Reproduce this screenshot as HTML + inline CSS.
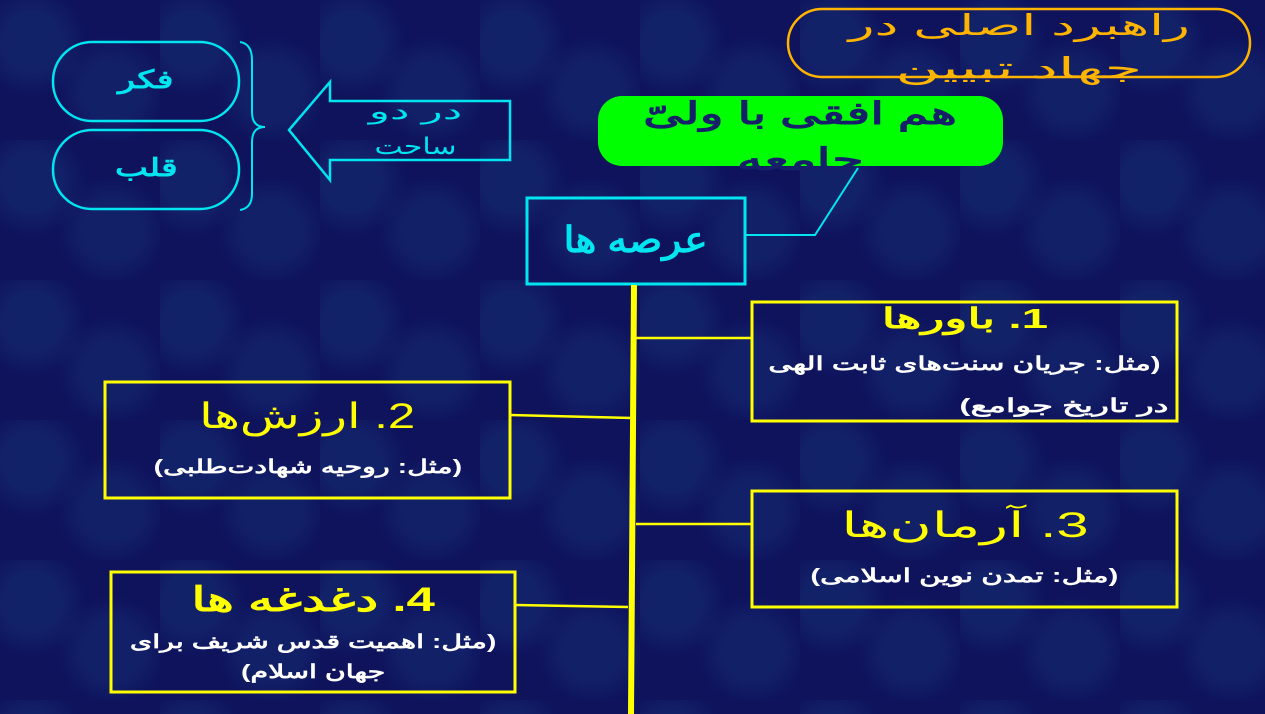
<!DOCTYPE html>
<html><head><meta charset="utf-8"><style>
body{margin:0;width:1265px;height:714px;overflow:hidden;background:#0e135c;
background-image:radial-gradient(circle at 20% 30%,rgba(30,70,140,.28) 0 30px,transparent 55px),radial-gradient(circle at 70% 65%,rgba(30,70,140,.26) 0 30px,transparent 55px);
background-size:160px 140px;font-family:"Liberation Sans","Noto Sans CJK SC",sans-serif;position:relative}
.t{position:absolute;direction:rtl;text-align:center;white-space:nowrap;line-height:1}
.t span{display:inline-block;transform-origin:50% 50%}
svg{position:absolute;left:0;top:0}
</style></head><body>
<svg width="1265" height="714">
<rect x="788" y="9" width="462" height="68" rx="34" fill="none" stroke="#ffb400" stroke-width="2.5"/>
<rect x="598" y="96" width="405" height="70" rx="24" fill="#00ff00"/>
<polyline points="745,235 815,235 858,168" fill="none" stroke="#00e5f0" stroke-width="2"/>
<rect x="527" y="198" width="218" height="86" fill="none" stroke="#00e5f0" stroke-width="3"/>
<line x1="634" y1="285" x2="631" y2="714" stroke="#ffff00" stroke-width="6"/>
<line x1="636" y1="338" x2="752" y2="338" stroke="#ffff00" stroke-width="2.5"/>
<line x1="510" y1="415" x2="632" y2="418" stroke="#ffff00" stroke-width="2.5"/>
<line x1="636" y1="524" x2="752" y2="524" stroke="#ffff00" stroke-width="2.5"/>
<line x1="515" y1="605" x2="628" y2="607" stroke="#ffff00" stroke-width="2.5"/>
<rect x="752" y="302" width="425" height="119" fill="none" stroke="#ffff00" stroke-width="3"/>
<rect x="105" y="382" width="405" height="116" fill="none" stroke="#ffff00" stroke-width="3"/>
<rect x="752" y="491" width="425" height="116" fill="none" stroke="#ffff00" stroke-width="3"/>
<rect x="111" y="572" width="404" height="120" fill="none" stroke="#ffff00" stroke-width="3"/>
<rect x="53" y="42" width="186" height="79" rx="39" fill="none" stroke="#00e5f0" stroke-width="2.5"/>
<rect x="53" y="130" width="186" height="79" rx="39" fill="none" stroke="#00e5f0" stroke-width="2.5"/>
<path d="M240,42 Q252,44 252,60 L252,112 Q252,127 265,127 Q252,127 252,142 L252,194 Q252,208 240,210" fill="none" stroke="#00e5f0" stroke-width="2"/>
<polygon points="289,130 330,82 330,101 510,101 510,160 330,160 330,180" fill="none" stroke="#00e5f0" stroke-width="2.5"/>
</svg>
<div class="t" style="left:788px;width:462px;top:12px;font-size:29px;color:#ffb400"><span style="transform:scaleX(1.85)">راهبرد اصلی در</span></div>
<div class="t" style="left:788px;width:462px;top:55px;font-size:29px;color:#ffb400"><span style="transform:scaleX(2.1)">جهاد تبیین</span></div>
<div class="t" style="left:598px;width:405px;top:98px;font-size:31px;color:#16206a;font-weight:bold"><span style="transform:scaleX(1.6)">هم افقی با ولیّ</span></div>
<div class="t" style="left:598px;width:405px;top:144px;font-size:31px;color:#16206a;font-weight:bold"><span style="transform:scaleX(1.65)">جامعه</span></div>
<div class="t" style="left:527px;width:218px;top:222px;font-size:36px;color:#00e5f0;font-weight:bold"><span style="transform:scaleX(1.1)">عرصه ها</span></div>
<div class="t" style="left:752px;width:425px;top:305px;font-size:28px;color:#ffff00;font-weight:bold"><span style="transform:scaleX(1.7)">1. باورها</span></div>
<div class="t" style="left:752px;width:425px;top:355px;font-size:19px;color:#fff;font-weight:bold"><span style="transform:scaleX(1.55)">(مثل: جریان سنت‌های ثابت الهی</span></div>
<div class="t" style="left:752px;width:416px;top:397px;font-size:19px;color:#fff;font-weight:bold;text-align:right"><span style="transform:scaleX(1.75);transform-origin:100% 50%">در تاریخ جوامع)</span></div>
<div class="t" style="left:105px;width:405px;top:399px;font-size:35px;color:#ffff00"><span style="transform:scaleX(1.4)">2. ارزش‌ها</span></div>
<div class="t" style="left:105px;width:405px;top:458px;font-size:19px;color:#fff;font-weight:bold"><span style="transform:scaleX(1.5)">(مثل: روحیه شهادت‌طلبی)</span></div>
<div class="t" style="left:752px;width:425px;top:508px;font-size:35px;color:#ffff00"><span style="transform:scaleX(1.65)">3. آرمان‌ها</span></div>
<div class="t" style="left:752px;width:425px;top:567px;font-size:19px;color:#fff;font-weight:bold"><span style="transform:scaleX(1.55)">(مثل: تمدن نوین اسلامی)</span></div>
<div class="t" style="left:111px;width:404px;top:583px;font-size:34px;color:#ffff00;font-weight:bold"><span style="transform:scaleX(1.5)">4. دغدغه ها</span></div>
<div class="t" style="left:111px;width:404px;top:633px;font-size:19px;color:#fff;font-weight:bold"><span style="transform:scaleX(1.5)">(مثل: اهمیت قدس شریف برای</span></div>
<div class="t" style="left:111px;width:404px;top:663px;font-size:19px;color:#fff;font-weight:bold"><span style="transform:scaleX(1.5)">جهان اسلام)</span></div>
<div class="t" style="left:53px;width:186px;top:68px;font-size:25px;color:#00e5f0;font-weight:bold"><span style="transform:scaleX(1.4)">فکر</span></div>
<div class="t" style="left:53px;width:186px;top:156px;font-size:25px;color:#00e5f0;font-weight:bold"><span style="transform:scaleX(1.4)">قلب</span></div>
<div class="t" style="left:336px;width:160px;top:100px;font-size:23px;color:#00e5f0"><span style="transform:scaleX(1.9)">در دو</span></div>
<div class="t" style="left:336px;width:160px;top:135px;font-size:23px;color:#00e5f0"><span style="transform:scaleX(1.3)">ساحت</span></div>
</body></html>
